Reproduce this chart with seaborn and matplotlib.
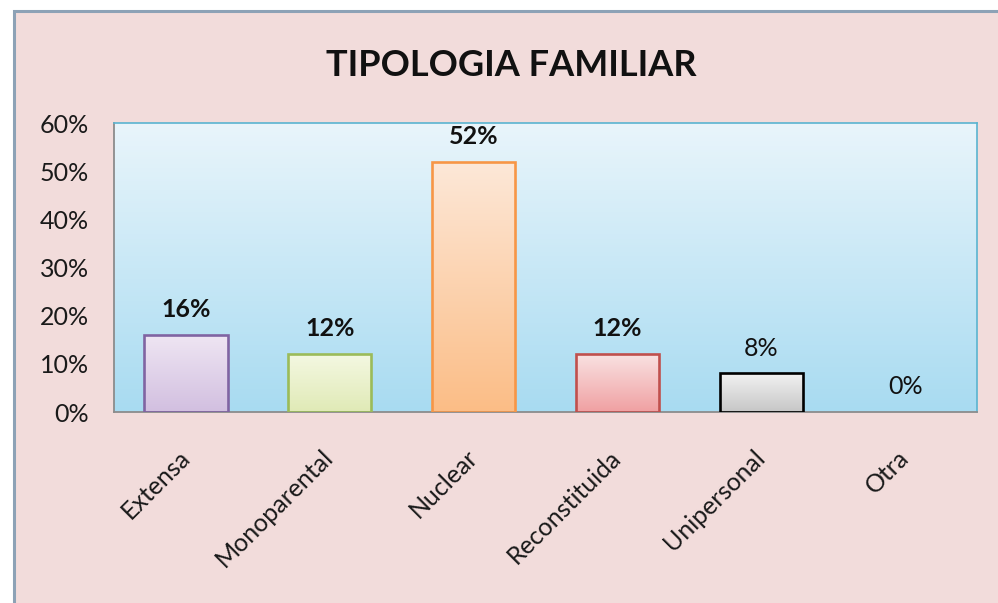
import numpy as np
import matplotlib
matplotlib.use("Agg")
import matplotlib.pyplot as plt
from matplotlib.patches import Rectangle
from matplotlib.colors import LinearSegmentedColormap
import seaborn as sns

categories = ["Extensa", "Monoparental", "Nuclear", "Reconstituida", "Unipersonal", "Otra"]
values = [16, 12, 52, 12, 8, 0]
labels = ["16%", "12%", "52%", "12%", "8%", "0%"]
label_bold = [True, True, True, True, False, False]
yticks = [0, 10, 20, 30, 40, 50, 60]
ytick_labels = ["0%", "10%", "20%", "30%", "40%", "50%", "60%"]

top_colors = ["#efe6f3", "#f4f8e2", "#fde8d8", "#f9e2e2", "#f2f2f2", "#ffffff"]
bottom_colors = ["#d2bfe0", "#e0eab6", "#fbbd86", "#f0a0a2", "#c6c6c6", "#cccccc"]
edge_colors = ["#8064a2", "#9bbb59", "#f79646", "#c0504d", "#000000", "#000000"]

sns.set_theme(style="white")
plt.rcParams["font.family"] = ["Lato", "DejaVu Sans"]

fig = plt.figure(figsize=(9.98, 6.03), dpi=100, facecolor="white")
W, H = 998, 603

# outer chart frame
frame = Rectangle((14 / W, -0.05), 1.1, (H - 11) / H + 0.05, transform=fig.transFigure,
                  facecolor="#f2dcdb", edgecolor="#8da2b6", linewidth=2.2, zorder=-10)
fig.patches.append(frame)

ax = fig.add_axes([114 / W, 1 - 412 / H, (977 - 114) / W, (412 - 123) / H])
ax.set_zorder(1)
ax.set_facecolor("none")

sns.barplot(x=categories, y=values, hue=categories, palette=bottom_colors, legend=False,
            width=0.58, ax=ax, zorder=3)

ax.set_xlim(-0.5, 5.5)
ax.set_ylim(0, 60)

# plot area gradient
bg = LinearSegmentedColormap.from_list("bg", ["#a8dbf1", "#e9f5fb"])
ax.imshow(np.linspace(0, 1, 256).reshape(-1, 1), cmap=bg, aspect="auto",
          extent=[-0.5, 5.5, 0, 60], origin="lower", zorder=0)

# bar gradients
for i, p in enumerate(ax.patches):
    x, y, w, h = p.get_x(), p.get_y(), p.get_width(), p.get_height()
    p.set_edgecolor(edge_colors[i])
    p.set_linewidth(1.9)
    if h <= 0:
        p.set_visible(False)
        continue
    cm = LinearSegmentedColormap.from_list(f"b{i}", [bottom_colors[i], top_colors[i]])
    im = ax.imshow(np.linspace(0, 1, 256).reshape(-1, 1), cmap=cm, aspect="auto",
                   extent=[x, x + w, y, y + h], origin="lower", zorder=2.5)
    im.set_clip_path(p)
    p.set_facecolor("none")
    p.set_zorder(3)

ax.set_xlim(-0.5, 5.5)
ax.set_ylim(0, 60)

# value labels
for i, v in enumerate(values):
    ax.annotate(labels[i], (i, v), xytext=(0, 10), textcoords="offset points",
                ha="center", va="bottom", fontsize=18,
                fontweight="bold" if label_bold[i] else "normal", color="#111111", zorder=5)

ax.set_yticks(yticks)
ax.set_yticklabels(ytick_labels)
ax.set_xticks(range(len(categories)))
ax.set_xticklabels(categories, rotation=45, ha="right", va="center", rotation_mode="anchor")
ax.tick_params(axis="y", length=0, pad=18, labelsize=18, labelcolor="#1a1a1a")
ax.tick_params(axis="x", length=0, pad=30, labelsize=18, labelcolor="#1a1a1a")
ax.set_xlabel("")
ax.set_ylabel("")

for side in ["left", "bottom"]:
    ax.spines[side].set_color("#8c8c8c")
    ax.spines[side].set_linewidth(1.3)
for side in ["top", "right"]:
    ax.spines[side].set_color("#5ab4d0")
    ax.spines[side].set_linewidth(1.2)
    ax.spines[side].set_visible(True)

fig.text(511 / W, 1 - 65 / H, "TIPOLOGIA FAMILIAR", ha="center", va="center",
         fontsize=26, fontweight="bold", color="#111111")

fig.savefig("out.png", dpi=100, facecolor=fig.get_facecolor())
